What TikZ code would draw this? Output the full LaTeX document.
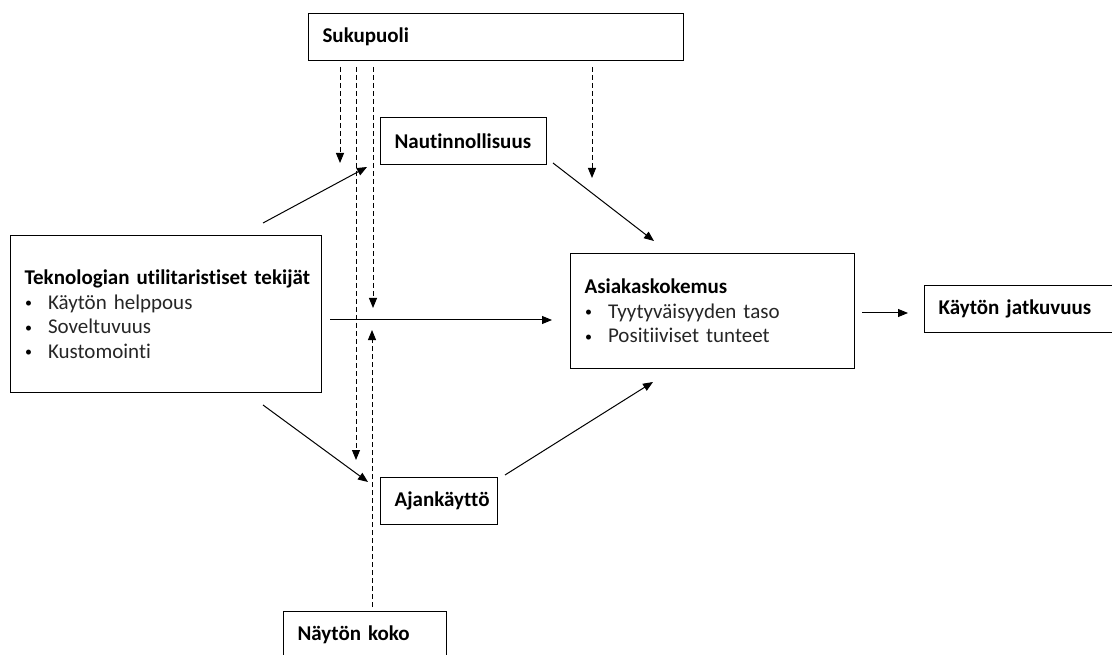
\documentclass[tikz,border=0pt]{standalone}
\usepackage{fontspec}
\setmainfont{Carlito}[Ligatures=NoCommon]
\usetikzlibrary{arrows.meta}

\tikzset{
  box/.style={draw, line width=1.1pt, anchor=north west, inner xsep=14pt, inner ysep=0pt,
    align=left, minimum height=47pt, font=\fontsize{21}{24.5}\selectfont\bfseries},
  link/.style={line width=1pt, ->},
  moder/.style={line width=1pt, ->, dash pattern=on 5pt off 3pt}
}
\newcommand{\itm}[1]{\hspace*{0.5pt}\makebox[23pt][l]{\raisebox{1.5pt}{\fontsize{14}{14}\selectfont\mdseries\textbullet}}{\mdseries\color[HTML]{262626}#1}}

\begin{document}
\begin{tikzpicture}[x=1pt, y=-1pt, >={Triangle[length=10pt,width=8pt]}]
\useasboundingbox [fill=white] (0,0) rectangle (1112,655);

\node [box, text width=347pt] (suku) at (308,13) {Sukupuoli};
\node [box, text width=138pt] (naut) at (380,117) {Nautinnollisuus};
\node [box, text width=283pt, minimum height=157pt] (tek) at (10,235)
  {\mbox{Teknologian utilitaristiset tekijät}\\ \itm{Käytön helppous}\\ \itm{Soveltuvuus}\\ \itm{Kustomointi}};
\node [box, text width=256pt, minimum height=115pt] (asia) at (570,253)
  {Asiakaskokemus\\ \itm{Tyytyväisyyden taso}\\ \itm{Positiiviset tunteet}};
\node [box, text width=172pt] (jatk) at (924,285) {Käytön jatkuvuus};
\node [box, text width=89pt] (ajan) at (380,477) {Ajankäyttö};
\node [box, text width=135pt] (koko) at (283,611) {Näytön koko};

% free ends of the connectors
\coordinate (tek-up) at (263,223);   \coordinate (naut-in) at (367,167);
\coordinate (naut-out) at (553,163); \coordinate (asia-top) at (654,241);
\coordinate (tek-mid) at (330,320);  \coordinate (asia-left) at (552,320);
\coordinate (asia-out) at (862,313); \coordinate (jatk-in) at (908,313);
\coordinate (tek-low) at (263,405);  \coordinate (ajan-in) at (368,482);
\coordinate (ajan-out) at (505,475); \coordinate (asia-bot) at (653,382);

\coordinate (s1) at (340,67); \coordinate (m1) at (340,163);
\coordinate (s2) at (356,67); \coordinate (m2) at (356,460);
\coordinate (s3) at (373,67); \coordinate (m3) at (373,308);
\coordinate (s4) at (592,67); \coordinate (m4) at (592,178);
\coordinate (k1) at (372,607); \coordinate (m5) at (372,330);

\draw [link] (tek-up) -- (naut-in);
\draw [link] (naut-out) -- (asia-top);
\draw [link] (tek-mid) -- (asia-left);
\draw [link] (asia-out) -- (jatk-in);
\draw [link] (tek-low) -- (ajan-in);
\draw [link] (ajan-out) -- (asia-bot);

\draw [moder] (s1) -- (m1);
\draw [moder] (s2) -- (m2);
\draw [moder] (s3) -- (m3);
\draw [moder] (s4) -- (m4);
\draw [moder] (k1) -- (m5);
\end{tikzpicture}
\end{document}
